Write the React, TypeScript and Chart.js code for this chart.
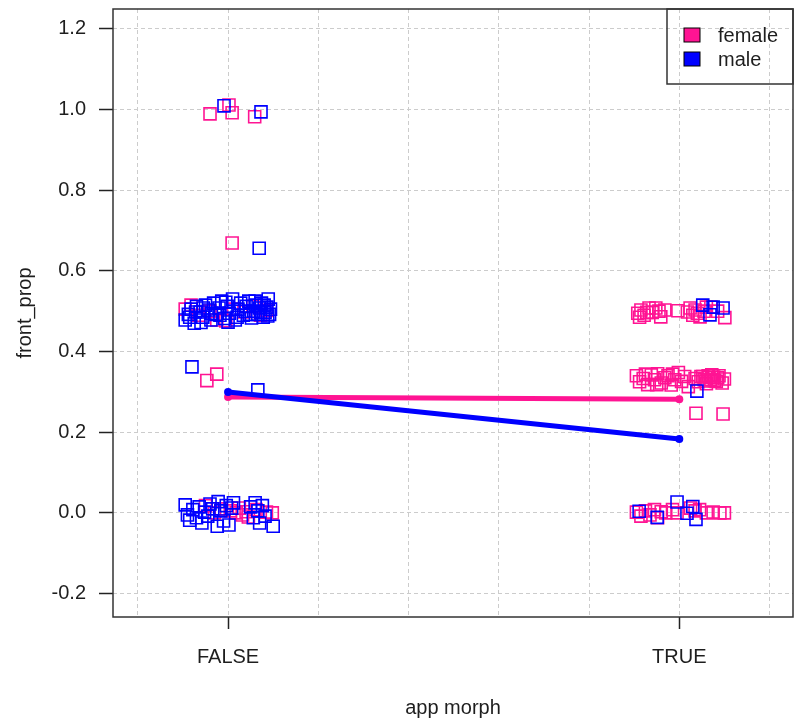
import { useEffect, useRef } from 'react';
import { Chart, registerables } from 'chart.js';

Chart.register(...registerables);

const categories = ['FALSE', 'TRUE'];
const yTickValues = [-0.2, 0, 0.2, 0.4, 0.6, 0.8, 1.0, 1.2];
const xGridValues = [0.8, 1.0, 1.2, 1.4, 1.6, 1.8, 2.0, 2.2];
const seriesNames = ['female', 'male'];
const seriesColors = ['#FF1493', '#0000FF'];

// group means (interaction lines)
const femaleMeans = [0.287, 0.282];
const maleMeans = [0.2995, 0.183];

// jittered observations: female
const femaleFalseX = [0.960, 1.002, 1.009, 1.059, 1.009, 0.953, 0.975,
  0.905, 0.918, 0.935, 0.960, 0.975, 0.995, 1.012, 1.035, 1.055, 1.072, 1.085,
  0.985, 1.005, 1.018, 1.025, 1.032, 1.040, 1.045, 1.062, 1.085, 1.098, 0.950, 0.970];
const femaleFalseY = [0.989, 1.011, 0.992, 0.982, 0.669, 0.328, 0.344,
  0.505, 0.515, 0.490, 0.500, 0.478, 0.476, 0.505, 0.498, 0.512, 0.490, 0.502,
  0.010, 0.005, 0.000, 0.012, -0.005, 0.003, -0.010, 0.008, 0.002, 0.000, 0.018, 0.000];
const femaleTrueX = [1.908, 1.915, 1.922, 1.933, 1.940, 1.948, 1.955, 1.959, 1.968, 1.997,
  2.018, 2.024, 2.035, 2.040, 2.046, 2.060, 2.070, 2.101, 2.085, 1.912, 1.928, 2.030, 2.055,
  1.905, 1.912, 1.920, 1.930, 1.938, 1.945, 1.952, 1.960, 1.968, 1.975, 1.982, 1.990,
  1.998, 2.005, 2.012, 2.020, 2.035, 2.042, 2.048, 2.055, 2.060, 2.066, 2.072, 2.078,
  2.085, 2.095, 2.100, 2.052, 2.058, 2.064, 2.070, 2.076, 2.082, 2.088, 1.925, 1.950, 1.985,
  2.037, 2.097,
  1.905, 1.915, 1.925, 1.935, 1.945, 1.952, 1.960, 1.970, 1.985, 1.995, 2.025, 2.035,
  2.045, 2.060, 2.075, 2.090, 2.100];
const femaleTrueY = [0.495, 0.503, 0.490, 0.508, 0.497, 0.508, 0.500, 0.486, 0.503, 0.501,
  0.498, 0.508, 0.503, 0.495, 0.486, 0.510, 0.510, 0.484, 0.500, 0.485, 0.497, 0.490, 0.500,
  0.340, 0.325, 0.333, 0.318, 0.342, 0.330, 0.345, 0.322, 0.335, 0.340, 0.317, 0.330,
  0.348, 0.326, 0.338, 0.313, 0.333, 0.325, 0.338, 0.330, 0.320, 0.335, 0.342, 0.328,
  0.335, 0.322, 0.332, 0.338, 0.327, 0.340, 0.330, 0.337, 0.326, 0.340, 0.344, 0.318, 0.344,
  0.247, 0.245,
  0.002, -0.008, 0.005, -0.005, 0.008, -0.012, 0.003, 0.000, 0.008, 0.000, 0.012, 0.005,
  0.008, 0.000, 0.002, 0.000, 0.000];

// jittered observations: male
const maleFalseX = [0.991, 1.073, 1.069, 0.920, 1.066,
  0.905, 0.912, 0.918, 0.925, 0.930, 0.938, 0.944, 0.950, 0.957, 0.962, 0.968, 0.973,
  0.980, 0.986, 0.992, 0.998, 1.003, 1.010, 1.016, 1.022, 1.028, 1.034, 1.040, 1.046,
  1.052, 1.057, 1.062, 1.066, 1.070, 1.074, 1.078, 1.082, 1.086, 1.089, 1.092,
  0.915, 0.928, 0.945, 0.963, 0.982, 0.995, 1.020, 1.038, 1.048, 1.060, 1.072, 1.080,
  1.088, 1.094, 0.940, 1.000,
  0.905, 0.910, 0.915, 0.922, 0.930, 0.936, 0.942, 0.948, 0.955, 0.960, 0.966, 0.976,
  0.978, 0.984, 0.990, 0.996, 1.002, 1.008, 1.012, 1.050, 1.056, 1.060, 1.066, 1.070,
  1.076, 1.082, 1.100];
const maleFalseY = [1.009, 0.994, 0.656, 0.362, 0.305,
  0.478, 0.492, 0.505, 0.470, 0.512, 0.498, 0.485, 0.515, 0.503, 0.478, 0.520, 0.492,
  0.508, 0.525, 0.482, 0.512, 0.495, 0.530, 0.478, 0.505, 0.520, 0.490, 0.512, 0.525,
  0.483, 0.500, 0.515, 0.492, 0.508, 0.520, 0.485, 0.497, 0.510, 0.530, 0.492,
  0.485, 0.498, 0.508, 0.495, 0.490, 0.522, 0.485, 0.500, 0.492, 0.525, 0.497, 0.515,
  0.488, 0.505, 0.472, 0.473,
  0.020, -0.005, -0.018, 0.008, -0.012, 0.015, -0.025, 0.002, -0.008, 0.022, 0.010, -0.033,
  0.028, 0.005, -0.020, 0.018, -0.030, 0.012, 0.025, 0.015, -0.012, 0.025, 0.005, -0.025,
  0.018, -0.008, -0.033];
const maleTrueX = [2.052, 2.068, 2.075, 2.097, 2.039,
  1.911, 1.951, 1.995, 2.017, 2.030, 2.037];
const maleTrueY = [0.515, 0.491, 0.510, 0.508, 0.302,
  0.004, -0.011, 0.027, -0.001, 0.016, -0.016];

const FONT = '"Liberation Sans", Arial, sans-serif';
const TEXT = '#1e1e1e';

const toPoints = (xs: number[], ys: number[]) => xs.map((x, i) => ({ x, y: ys[i] }));
const meanPoints = (m: number[]) => m.map((y, i) => ({ x: i + 1, y }));
const catIndex = (v: number) => categories.findIndex((_, i) => Math.abs(v - (i + 1)) < 1e-6);

const framePlugin = {
  id: 'frameLegend',
  afterDraw(chart: any) {
    const { ctx, chartArea: a } = chart;
    ctx.save();
    ctx.strokeStyle = '#333';
    ctx.lineWidth = 1.5;
    ctx.strokeRect(a.left, a.top, a.right - a.left, a.bottom - a.top);
    // legend box
    const lw = 126;
    const lh = 75;
    const lx = a.right - lw;
    const ly = a.top;
    ctx.strokeRect(lx, ly, lw, lh);
    ctx.font = `20px ${FONT}`;
    ctx.textBaseline = 'middle';
    ctx.textAlign = 'left';
    seriesNames.forEach((name, i) => {
      const cy = ly + 26 + i * 24;
      ctx.fillStyle = seriesColors[i];
      ctx.fillRect(lx + 17, cy - 7, 16, 14);
      ctx.lineWidth = 1;
      ctx.strokeStyle = '#000';
      ctx.strokeRect(lx + 17, cy - 7, 16, 14);
      ctx.fillStyle = TEXT;
      ctx.fillText(name, lx + 51, cy + 1);
    });
    ctx.restore();
  },
};

export default function App() {
  const ref = useRef<HTMLCanvasElement | null>(null);
  useEffect(() => {
    if (!ref.current) return;
    const scatterStyle = (color: string) => ({
      type: 'scatter' as const,
      showLine: false,
      pointStyle: 'rect',
      pointRadius: 8.5,
      pointBorderWidth: 1.6,
      pointBorderColor: color,
      pointBackgroundColor: 'rgba(0,0,0,0)',
      borderColor: color,
      backgroundColor: 'rgba(0,0,0,0)',
    });
    const lineStyle = (color: string) => ({
      type: 'line' as const,
      borderColor: color,
      backgroundColor: color,
      borderWidth: 5,
      pointRadius: 4,
      pointBackgroundColor: color,
      pointBorderColor: color,
      pointBorderWidth: 0,
      tension: 0,
    });
    const chart = new Chart(ref.current, {
      type: 'scatter',
      data: {
        datasets: [
          { label: 'male mean', data: meanPoints(maleMeans), ...lineStyle(seriesColors[1]) },
          { label: 'female mean', data: meanPoints(femaleMeans), ...lineStyle(seriesColors[0]) },
          {
            label: seriesNames[1],
            data: [...toPoints(maleFalseX, maleFalseY), ...toPoints(maleTrueX, maleTrueY)],
            ...scatterStyle(seriesColors[1]),
          },
          {
            label: seriesNames[0],
            data: [...toPoints(femaleFalseX, femaleFalseY), ...toPoints(femaleTrueX, femaleTrueY)],
            ...scatterStyle(seriesColors[0]),
          },
        ] as any,
      },
      options: {
        animation: false,
        responsive: false,
        events: [],
        layout: { autoPadding: false, padding: { top: 9, right: 3, left: 0, bottom: 0 } },
        plugins: { legend: { display: false }, tooltip: { enabled: false } },
        scales: {
          x: {
            type: 'linear',
            min: 0.745,
            max: 2.252,
            afterBuildTicks: (s: any) => {
              s.ticks = xGridValues.map((v) => ({ value: v }));
            },
            afterFit: (s: any) => {
              s.height = 104;
              s.paddingLeft = 0;
              s.paddingRight = 0;
            },
            ticks: {
              autoSkip: false,
              maxRotation: 0,
              padding: 16,
              color: TEXT,
              font: { family: FONT, size: 20 },
              callback: (v: any) => {
                const i = catIndex(Number(v));
                return i >= 0 ? categories[i] : '';
              },
            },
            grid: {
              color: '#cccccc',
              lineWidth: 1,
              tickLength: 12,
              tickWidth: 1.5,
              tickColor: (c: any) => (c.tick && catIndex(c.tick.value) >= 0 ? '#222' : 'rgba(0,0,0,0)'),
              tickBorderDash: [],
            },
            border: { display: false, dash: [4, 3] },
            title: {
              display: true,
              text: 'app morph',
              color: TEXT,
              font: { family: FONT, size: 20 },
              padding: { top: 0, bottom: 1 },
            },
          },
          y: {
            type: 'linear',
            min: -0.258,
            max: 1.249,
            afterBuildTicks: (s: any) => {
              s.ticks = yTickValues.map((v) => ({ value: v }));
            },
            afterFit: (s: any) => {
              s.width = 113;
              s.paddingTop = 0;
              s.paddingBottom = 0;
            },
            ticks: {
              padding: 13,
              color: TEXT,
              font: { family: FONT, size: 20 },
              callback: (v: any) => Number(v).toFixed(1),
            },
            grid: {
              color: '#cccccc',
              lineWidth: 1,
              tickLength: 14,
              tickWidth: 1.5,
              tickColor: '#222',
              tickBorderDash: [],
            },
            border: { display: false, dash: [4, 3] },
            title: {
              display: true,
              text: 'front_prop',
              color: TEXT,
              font: { family: FONT, size: 20 },
              padding: { top: 13, bottom: 0 },
            },
          },
        },
      },
      plugins: [framePlugin],
    });
    return () => chart.destroy();
  }, []);
  return (
    <div style={{ position: 'absolute', left: 0, top: 0, width: 796, height: 721, background: '#fff' }}>
      <canvas ref={ref} width={796} height={721} style={{ width: 796, height: 721 }} />
    </div>
  );
}
